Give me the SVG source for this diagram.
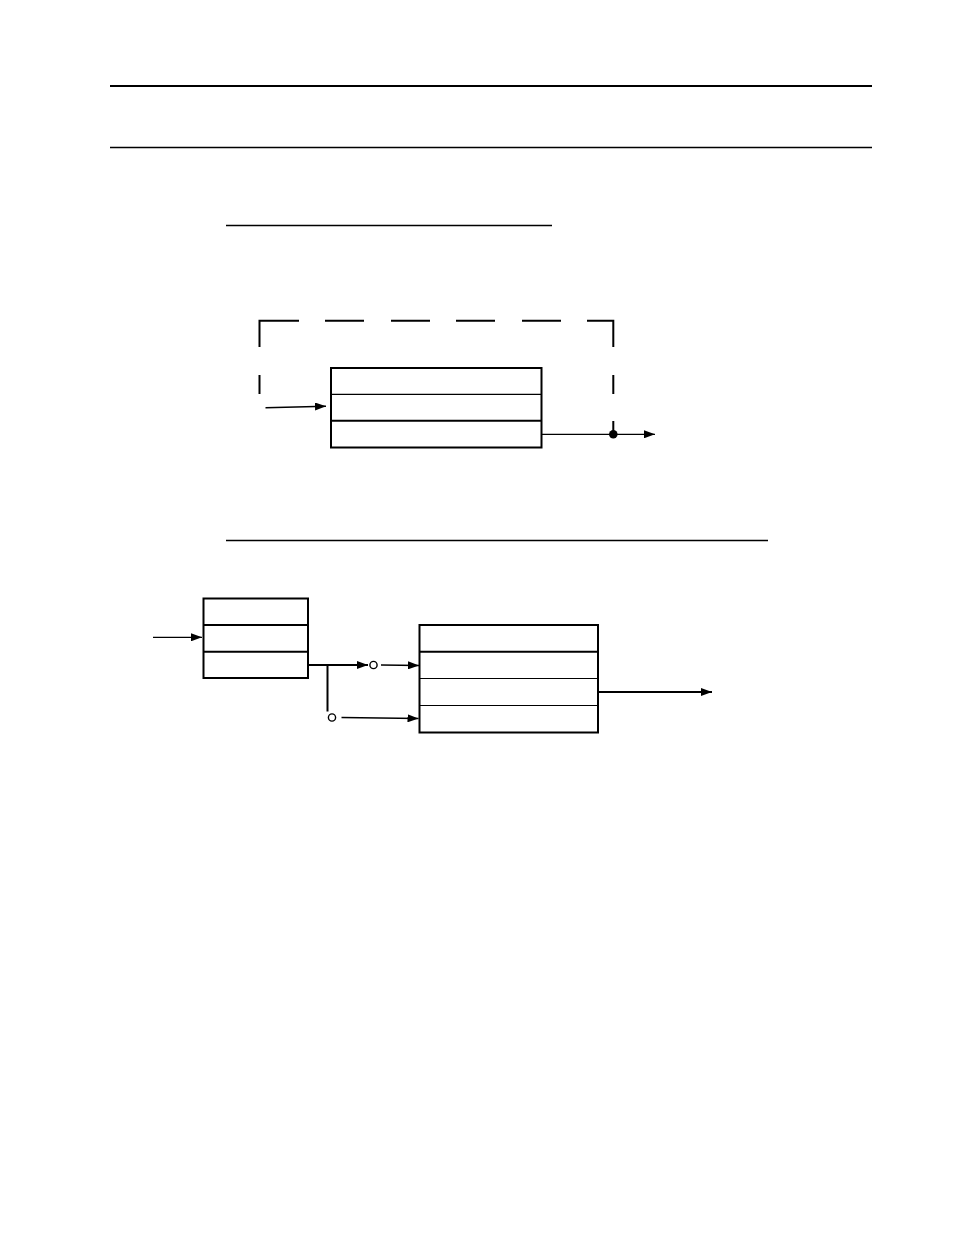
<svg xmlns="http://www.w3.org/2000/svg" width="954" height="1235" viewBox="0 0 954 1235">
<style>
.ln{stroke:#000;fill:none;stroke-linecap:butt}
.box{stroke:#000;stroke-width:2;fill:#fff}
.thin{stroke:#000;stroke-width:1.2}
.thick{stroke:#000;stroke-width:2}
</style>
<defs>
<marker id="ah" markerUnits="userSpaceOnUse" markerWidth="12" markerHeight="8" refX="11" refY="4" orient="auto">
<path d="M0,0 L11,4 L0,8 Z" fill="#000"/>
</marker>
</defs>
<rect width="954" height="1235" fill="#fff"/>
<g id="rules">
<line class="ln" x1="110" y1="86" x2="872" y2="86" stroke-width="2.2"/>
<line class="ln" x1="110" y1="147.5" x2="872" y2="147.5" stroke-width="1.3"/>
<line class="ln" x1="226" y1="225.5" x2="552" y2="225.5" stroke-width="1.3"/>
<line class="ln" x1="226" y1="540.5" x2="768" y2="540.5" stroke-width="1.3"/>
</g>
<g id="dashed-frame">
<path class="ln" stroke-width="2" d="M259.5,347 V320.7 H299 M325,320.7 H364 M391,320.7 H430 M456,320.7 H495 M522,320.7 H561 M587,320.7 H613.3 V347"/>
<path class="ln" stroke-width="2" d="M259.5,375 V394 M613.3,375 V394 M613.3,421 V434"/>
</g>
<g id="node-a">
<rect class="box" x="331" y="368" width="210.5" height="79.5"/>
<line class="thin" x1="331" y1="394.3" x2="541.5" y2="394.3"/>
<line class="thick" x1="331" y1="420.8" x2="541.5" y2="420.8"/>
</g>
<g id="node-b">
<rect class="box" x="203.5" y="598.5" width="104.5" height="79.5"/>
<line class="thick" x1="203.5" y1="625" x2="308" y2="625"/>
<line class="thick" x1="203.5" y1="651.7" x2="308" y2="651.7"/>
</g>
<g id="node-c">
<rect class="box" x="419.5" y="625" width="178.5" height="107.5"/>
<line class="thick" x1="419.5" y1="651.7" x2="598" y2="651.7"/>
<line class="thin" x1="419.5" y1="678.5" x2="598" y2="678.5"/>
<line class="thin" x1="419.5" y1="705.5" x2="598" y2="705.5"/>
</g>
<g id="connectors">
<line class="ln" stroke-width="1.5" x1="265.5" y1="407.8" x2="326" y2="406.3" marker-end="url(#ah)"/>
<line class="ln" stroke-width="1.3" x1="541.5" y1="434.3" x2="655" y2="434.3" marker-end="url(#ah)"/>
<circle cx="613.3" cy="434.3" r="4.3" fill="#000"/>
<line class="ln" stroke-width="1.3" x1="153" y1="637.3" x2="202" y2="637.3" marker-end="url(#ah)"/>
<line class="ln" stroke-width="2" x1="308" y1="665" x2="368" y2="665" marker-end="url(#ah)"/>
<circle cx="373.5" cy="665" r="3.6" fill="#fff" stroke="#000" stroke-width="1.4"/>
<line class="ln" stroke-width="1.3" x1="381" y1="665" x2="419" y2="665.5" marker-end="url(#ah)"/>
<line class="ln" stroke-width="2" x1="327.5" y1="665" x2="327.5" y2="711.5"/>
<circle cx="332" cy="717.5" r="3.6" fill="#fff" stroke="#000" stroke-width="1.4"/>
<line class="ln" stroke-width="1.5" x1="341.5" y1="717.5" x2="418.5" y2="718.5" marker-end="url(#ah)"/>
<line class="ln" stroke-width="2" x1="598" y1="692" x2="712" y2="692" marker-end="url(#ah)"/>
</g>
</svg>
